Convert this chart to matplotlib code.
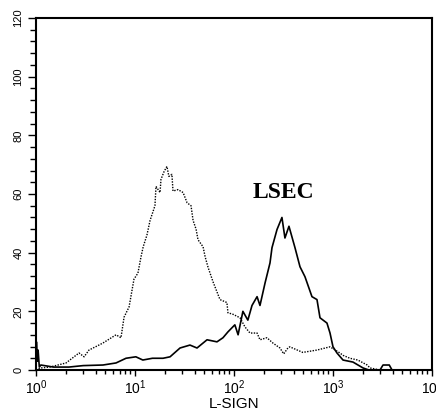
import matplotlib
matplotlib.use('Agg')
import matplotlib.pyplot as plt
import numpy as np
from matplotlib.ticker import LogLocator, MultipleLocator, LogFormatterMathtext

plt.rcParams['font.family'] = ['Liberation Sans', 'DejaVu Sans']
plt.rcParams['mathtext.fontset'] = 'custom'
plt.rcParams['mathtext.rm'] = 'Liberation Sans'
plt.rcParams['mathtext.it'] = 'Liberation Sans'

# L-SIGN stained (solid)
lsign_x = [1.0, 1.01, 1.03, 1.05, 1.08, 1.12, 1.5, 2.15, 3.0, 4.75, 6.43, 8.11, 10.2, 12.0,
           15, 19.2, 22.6, 28.5, 35.9, 42.3, 53.4, 67.3, 77.4, 86.9, 102, 110, 123, 138,
           152, 171, 183, 206, 231, 242, 272, 305, 327, 359, 413, 464, 521, 613, 689,
           739, 869, 933, 1000, 1097, 1262, 1592, 2010, 2300, 2985, 3200, 3700, 3948, 10000]
lsign_y = [0, 9.6, 3, 6.8, 1, 1.7, 1, 1, 1.5, 1.7, 2.4, 4, 4.5, 3.4,
           4, 4, 4.5, 7.5, 8.5, 7.5, 10.3, 9.6, 11, 13, 15.4, 12, 20, 17,
           22, 25, 22, 29.7, 36.5, 41.7, 47.9, 52, 45, 49, 41.7, 35.2, 31.8, 25, 24,
           17.8, 16, 12.6, 7.9, 5.8, 3.4, 2.7, 0.7, 0, 0, 1.7, 1.7, 0, 0]

# isotype control (dotted)
ctrl_x = [1.0, 1.12, 1.38, 2.01, 2.72, 3.06, 3.43, 4.75, 6.43, 7.22, 7.75, 8.71, 9.77, 10.7,
          11.5, 12.1, 13.2, 14.2, 15.2, 15.9, 16.3, 17.9, 18.3, 19.7, 21.0, 22.0, 23.6,
          24.2, 27.2, 30.6, 33.6, 36.8, 38.6, 41.4, 43.3, 48.7, 51.1, 54.7, 61.5, 72.2,
          84.8, 86.9, 97.6, 115, 129, 145, 171, 183, 215, 247, 291, 318, 350, 366, 495,
          689, 933, 1175, 1262, 1482, 1780, 2215, 2363, 2985, 10000]
ctrl_y = [0, 0.7, 1.0, 2.4, 5.8, 4.5, 6.8, 9.2, 12, 11, 18, 21.5, 31, 33,
          38.6, 42, 46, 51, 54, 56, 62.6, 60.5, 65, 67.7, 69.4, 66, 66.7,
          61, 61.5, 60.5, 57, 56, 51, 48, 44.4, 42, 38.6, 35, 30, 24,
          23, 19.5, 19, 17.8, 14.7, 12.6, 12.6, 10.3, 11, 9.2, 7.5, 5.5, 7.5, 7.9, 6,
          6.8, 7.9, 5.8, 5, 4, 3.4, 1.7, 0.7, 0, 0]

fig = plt.figure(figsize=(4.36, 4.12), dpi=100)
ax = fig.add_axes([36/436, 42/412, 396/436, 352/412])

ax.plot(ctrl_x, ctrl_y, color='black', lw=1.0, ls=(0, (1, 1)))
ax.plot(lsign_x, lsign_y, color='black', lw=1.2)

ax.set_xscale('log')
ax.set_xlim(1, 1e4)
ax.set_ylim(0, 120)

ax.xaxis.set_major_locator(LogLocator(base=10, numticks=10))
ax.xaxis.set_minor_locator(LogLocator(base=10, subs=np.arange(2, 10), numticks=20))
ax.xaxis.set_major_formatter(LogFormatterMathtext())
ax.yaxis.set_major_locator(MultipleLocator(20))
ax.yaxis.set_minor_locator(MultipleLocator(4))

ax.tick_params(axis='x', which='major', length=4, width=1, labelsize=10, pad=2)
ax.tick_params(axis='x', which='minor', length=3, width=1)
ax.tick_params(axis='y', which='major', length=6, width=1, labelsize=8, pad=3)
ax.tick_params(axis='y', which='minor', length=4, width=1)
for lab in ax.get_yticklabels():
    lab.set_rotation(90)
    lab.set_va('center')

for s in ax.spines.values():
    s.set_linewidth(1.5)

ax.set_xlabel('L-SIGN', fontsize=11, labelpad=0)

ax.text(313, 60.5, 'LSEC', fontsize=17, fontweight='bold', family='Liberation Serif',
        ha='center', va='center')

fig.savefig('out.png', dpi=100)
